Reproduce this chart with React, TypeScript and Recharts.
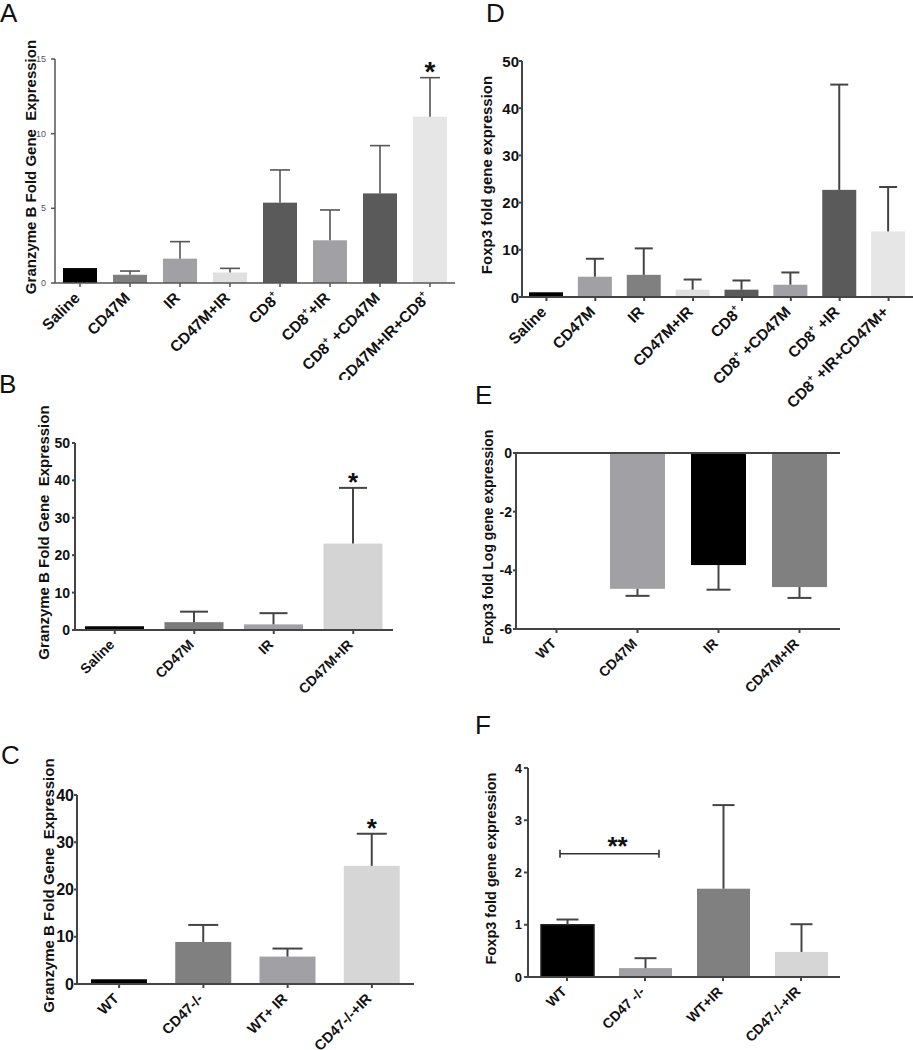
import React from 'react';
import { BarChart, Bar, XAxis, YAxis, ReferenceLine, Label } from 'recharts';

const FONT = '"Liberation Sans", Arial, Helvetica, sans-serif';

// ---------- Panel A ----------
const aCategories = ['Saline', 'CD47M', 'IR', 'CD47M+IR', 'CD8⁺', 'CD8⁺+IR', 'CD8⁺ +CD47M', 'CD47M+IR+CD8⁺'];
const aMeans = [1.0, 0.55, 1.63, 0.7, 5.38, 2.86, 6.0, 11.14];
const aErrors = [0, 0.25, 1.14, 0.28, 2.19, 2.03, 3.2, 2.61];
const aSignif = ['', '', '', '', '', '', '', '*'];
const aTicks = [0, 5, 10, 15];
const aColors = ['#000000', '#7f7f7f', '#a0a0a5', '#e0e0e0', '#5a5a5a', '#a0a0a5', '#5a5a5a', '#e6e6e6'];

// ---------- Panel B ----------
const bCategories = ['Saline', 'CD47M', 'IR', 'CD47M+IR'];
const bMeans = [1.0, 2.1, 1.5, 23.1];
const bErrors = [0, 2.8, 3.0, 14.9];
const bSignif = ['', '', '', '*'];
const bTicks = [0, 10, 20, 30, 40, 50];
const bColors = ['#000000', '#7b7b7b', '#a0a0a5', '#d4d4d4'];

// ---------- Panel C ----------
const cCategories = ['WT', 'CD47-/-', 'WT+ IR', 'CD47-/-+IR'];
const cMeans = [1.0, 8.9, 5.8, 25.0];
const cErrors = [0, 3.6, 1.7, 6.8];
const cSignif = ['', '', '', '*'];
const cTicks = [0, 10, 20, 30, 40];
const cColors = ['#000000', '#808080', '#a0a0a5', '#d6d6d6'];

// ---------- Panel D ----------
const dCategories = ['Saline', 'CD47M', 'IR', 'CD47M+IR', 'CD8⁺', 'CD8⁺ +CD47M', 'CD8⁺ +IR', 'CD8⁺ +IR+CD47M+'];
const dMeans = [1.0, 4.3, 4.7, 1.55, 1.55, 2.6, 22.7, 13.9];
const dErrors = [0, 3.8, 5.6, 2.15, 1.95, 2.6, 22.3, 9.4];
const dSignif = ['', '', '', '', '', '', '', ''];
const dTicks = [0, 10, 20, 30, 40, 50];
const dColors = ['#000000', '#a0a0a5', '#808080', '#e0e0e0', '#5a5a5a', '#a0a0a5', '#5a5a5a', '#e6e6e6'];

// ---------- Panel E ----------
const eCategories = ['WT', 'CD47M', 'IR', 'CD47M+IR'];
const eMeans = [0, -4.63, -3.82, -4.57];
const eErrors = [0, 0.24, 0.84, 0.37];
const eSignif = ['', '', '', ''];
const eTicks = [-6, -4, -2, 0];
const eColors = ['#000000', '#a0a0a5', '#000000', '#808080'];

// ---------- Panel F ----------
const fCategories = ['WT', 'CD47 -/-', 'WT+IR', 'CD47-/-+IR'];
const fMeans = [1.0, 0.17, 1.69, 0.48];
const fErrors = [0.1, 0.19, 1.6, 0.53];
const fSignif = ['', '', '', ''];
const fTicks = [0, 1, 2, 3, 4];
const fColors = ['#000000', '#a0a0a5', '#808080', '#d6d6d6'];
const fStrokes = ['#222222', 'none', 'none', 'none'];
const fBracketY = 2.36;
const fBracketText = '**';

function RotTick(props: any) {
  const { x, y, payload, fontSize } = props;
  const parts = String(payload.value).split('⁺');
  const sup = fontSize * 0.45;
  const kids: any[] = [];
  parts.forEach((part, i) => {
    if (i === 0) {
      kids.push(<tspan key={'p' + i} dy="0.35em">{part}</tspan>);
    } else {
      kids.push(
        <tspan key={'s' + i} dy={-sup} fontSize={fontSize * 0.6}>+</tspan>
      );
      kids.push(
        <tspan key={'p' + i} dy={sup} fontSize={fontSize}>{part}</tspan>
      );
    }
  });
  return (
    <text
      transform={`translate(${x - 3},${y + 6}) rotate(-45)`}
      textAnchor="end"
      fontSize={fontSize}
      fontWeight="bold"
      fontFamily={FONT}
      fill="#111"
      style={{ whiteSpace: 'pre' }}
    >
      {kids}
    </text>
  );
}

function YTick(props: any) {
  const { x, y, payload, fontSize, fontWeight, fill } = props;
  return (
    <text
      x={x}
      y={y}
      textAnchor="end"
      dominantBaseline="central"
      fontSize={fontSize}
      fontWeight={fontWeight}
      fontFamily={FONT}
      fill={fill}
    >
      {payload.value}
    </text>
  );
}

function ErrBar(props: any) {
  const { x, y, width, height, payload, cap, errColor, errWidth, starSize } = props;
  if (x == null || y == null) return null;
  const top = Math.min(y, y + height);
  const bot = Math.max(y, y + height);
  const h = bot - top;
  const v = payload.v;
  const pxPerUnit = v !== 0 ? h / Math.abs(v) : 0;
  const cx = x + width / 2;
  const tip = v >= 0 ? top : bot;
  const errPx = payload.err * pxPerUnit;
  const end = v >= 0 ? tip - errPx : tip + errPx;
  return (
    <g>
      {h > 0 && (
        <rect
          x={x}
          y={top}
          width={width}
          height={h}
          fill={payload.fill}
          stroke={payload.stroke || 'none'}
          strokeWidth={payload.stroke && payload.stroke !== 'none' ? 1.5 : 0}
        />
      )}
      {payload.err > 0 && (
        <g stroke={errColor} strokeWidth={errWidth}>
          <line x1={cx} y1={tip} x2={cx} y2={end} />
          <line x1={cx - cap} y1={end} x2={cx + cap} y2={end} />
        </g>
      )}
      {payload.sig && (
        <text
          x={cx}
          y={end + starSize * 0.12}
          textAnchor="middle"
          fontSize={starSize}
          fontWeight="bold"
          fontFamily={FONT}
          fill="#111"
        >
          {payload.sig}
        </text>
      )}
    </g>
  );
}

function Panel(p: any) {
  const { box, plot } = p;
  const data = p.categories.map((c: string, i: number) => ({
    name: c,
    v: p.means[i],
    err: p.errors[i],
    sig: p.signif[i],
    fill: p.colors[i],
    stroke: p.strokes ? p.strokes[i] : 'none',
  }));
  const margin = { top: plot.t - box.y, right: box.x + box.w - plot.r, bottom: 0, left: 0 };
  const yW = plot.l - box.x;
  const xH = box.y + box.h - plot.b;
  const labelY = (plot.t + plot.b) / 2 - 4 - box.y;
  const labelX = p.labelX - box.x;
  const axisStyle = { stroke: p.axisColor, strokeWidth: p.axisWidth };
  return (
    <div style={{ position: 'absolute', left: box.x, top: box.y, width: box.w, height: box.h }}>
      <BarChart width={box.w} height={box.h} data={data} margin={margin} style={{ fontFamily: FONT }}>
        <XAxis
          dataKey="name"
          type="category"
          interval={0}
          height={xH}
          axisLine={axisStyle}
          tickLine={axisStyle}
          tickSize={4}
          tickMargin={2}
          tick={(tp: any) => <RotTick {...tp} fontSize={p.xFont} />}
        />
        <YAxis
          type="number"
          domain={p.domain}
          ticks={p.ticks}
          interval={0}
          width={yW}
          allowDataOverflow
          axisLine={axisStyle}
          tickLine={axisStyle}
          tickSize={p.yTickSize}
          tickMargin={p.yTickMargin}
          tick={(tp: any) => (
            <YTick {...tp} fontSize={p.yFont} fontWeight={p.yWeight} fill={p.yFill} />
          )}
        >
          <Label
            content={() => (
              <text
                transform={`translate(${labelX},${labelY}) rotate(-90)`}
                textAnchor="middle"
                dominantBaseline="central"
                fontSize={p.labelFont}
                fontWeight="bold"
                fontFamily={FONT}
                fill="#111"
                style={{ whiteSpace: 'pre' }}
              >
                {p.yLabel}
              </text>
            )}
          />
        </YAxis>
        <Bar
          dataKey="v"
          isAnimationActive={false}
          barSize={p.barSize}
          shape={(bp: any) => (
            <ErrBar {...bp} cap={p.cap} errColor={p.errColor} errWidth={p.errWidth} starSize={p.starSize} />
          )}
        />
        {p.zeroLine && <ReferenceLine y={0} stroke={p.axisColor} strokeWidth={p.axisWidth} />}
        {p.bracket && (
          <ReferenceLine
            segment={[
              { x: p.categories[0], y: p.bracket.y },
              { x: p.categories[1], y: p.bracket.y },
            ]}
            shape={(lp: any) => {
              const x1 = lp.x1 - 7;
              const x2 = lp.x2 + 14;
              const yy = lp.y1;
              return (
                <g>
                  <g stroke="#333" strokeWidth={1.6}>
                    <line x1={x1} y1={yy} x2={x2} y2={yy} />
                    <line x1={x1} y1={yy - 4} x2={x1} y2={yy + 4} />
                    <line x1={x2} y1={yy - 4} x2={x2} y2={yy + 4} />
                  </g>
                  <text
                    x={(x1 + x2) / 2 + 8}
                    y={yy + 1}
                    textAnchor="middle"
                    fontSize={26}
                    fontWeight="bold"
                    fontFamily={FONT}
                    fill="#111"
                  >
                    {p.bracket.text}
                  </text>
                </g>
              );
            }}
          />
        )}
      </BarChart>
    </div>
  );
}

const letterStyle = (left: number, top: number): React.CSSProperties => ({
  position: 'absolute',
  left,
  top,
  fontFamily: FONT,
  fontSize: 26,
  lineHeight: '30px',
  color: '#111',
});

export default function App() {
  return (
    <div style={{ position: 'absolute', left: 0, top: 0, width: 913, height: 1050, background: '#fff', overflow: 'hidden' }}>
      <div style={letterStyle(0, -2)}>A</div>
      <div style={letterStyle(-1, 369)}>B</div>
      <div style={letterStyle(1, 740)}>C</div>
      <div style={letterStyle(486, -2)}>D</div>
      <div style={letterStyle(475, 380)}>E</div>
      <div style={letterStyle(475, 710)}>F</div>

      <Panel
        box={{ x: 0, y: 30, w: 460, h: 350 }}
        plot={{ l: 55, t: 59, r: 455, b: 283 }}
        categories={aCategories}
        means={aMeans}
        errors={aErrors}
        signif={aSignif}
        colors={aColors}
        domain={[0, 15]}
        ticks={aTicks}
        yLabel="Granzyme B Fold Gene  Expression"
        labelX={30}
        labelFont={15}
        yFont={9}
        yWeight="normal"
        yFill="#555"
        yTickSize={4}
        yTickMargin={5}
        xFont={15.5}
        barSize={34}
        cap={10}
        errColor="#555"
        errWidth={1.6}
        starSize={28}
        axisColor="#555"
        axisWidth={1.5}
      />
      <Panel
        box={{ x: 0, y: 400, w: 460, h: 320 }}
        plot={{ l: 75, t: 443, r: 393, b: 630 }}
        categories={bCategories}
        means={bMeans}
        errors={bErrors}
        signif={bSignif}
        colors={bColors}
        domain={[0, 50]}
        ticks={bTicks}
        yLabel="Granzyme B Fold Gene  Expression"
        labelX={43}
        labelFont={15}
        yFont={14}
        yWeight="bold"
        yFill="#111"
        yTickSize={3}
        yTickMargin={2}
        xFont={14}
        barSize={59}
        cap={14}
        errColor="#444"
        errWidth={2}
        starSize={26}
        axisColor="#444"
        axisWidth={2}
      />
      <Panel
        box={{ x: 0, y: 750, w: 460, h: 300 }}
        plot={{ l: 77, t: 795, r: 414, b: 984 }}
        categories={cCategories}
        means={cMeans}
        errors={cErrors}
        signif={cSignif}
        colors={cColors}
        domain={[0, 40]}
        ticks={cTicks}
        yLabel="Granzyme B Fold Gene  Expression"
        labelX={48}
        labelFont={15}
        yFont={16}
        yWeight="bold"
        yFill="#111"
        yTickSize={3}
        yTickMargin={0}
        xFont={14.5}
        barSize={56}
        cap={15}
        errColor="#444"
        errWidth={2}
        starSize={26}
        axisColor="#444"
        axisWidth={2}
      />
      <Panel
        box={{ x: 460, y: 30, w: 453, h: 380 }}
        plot={{ l: 522, t: 61, r: 913, b: 297 }}
        categories={dCategories}
        means={dMeans}
        errors={dErrors}
        signif={dSignif}
        colors={dColors}
        domain={[0, 50]}
        ticks={dTicks}
        yLabel="Foxp3 fold gene expression"
        labelX={486}
        labelFont={15}
        yFont={15}
        yWeight="bold"
        yFill="#111"
        yTickSize={3}
        yTickMargin={0}
        xFont={15.5}
        barSize={34}
        cap={9}
        errColor="#444"
        errWidth={2}
        starSize={24}
        axisColor="#444"
        axisWidth={2}
      />
      <Panel
        box={{ x: 460, y: 410, w: 453, h: 300 }}
        plot={{ l: 516, t: 453, r: 840, b: 629 }}
        categories={eCategories}
        means={eMeans}
        errors={eErrors}
        signif={eSignif}
        colors={eColors}
        domain={[-6, 0]}
        ticks={eTicks}
        yLabel="Foxp3 fold Log gene expression"
        labelX={488}
        labelFont={14}
        yFont={14}
        yWeight="bold"
        yFill="#111"
        yTickSize={3}
        yTickMargin={1}
        xFont={14}
        barSize={55}
        cap={12}
        errColor="#444"
        errWidth={2}
        starSize={24}
        axisColor="#444"
        axisWidth={2}
        zeroLine
      />
      <Panel
        box={{ x: 460, y: 740, w: 453, h: 310 }}
        plot={{ l: 528, t: 768, r: 840, b: 977 }}
        categories={fCategories}
        means={fMeans}
        errors={fErrors}
        signif={fSignif}
        colors={fColors}
        strokes={fStrokes}
        domain={[0, 4]}
        ticks={fTicks}
        yLabel="Foxp3 fold gene expression"
        labelX={491}
        labelFont={14.5}
        yFont={13}
        yWeight="bold"
        yFill="#111"
        yTickSize={4}
        yTickMargin={2}
        xFont={14}
        barSize={53}
        cap={11}
        errColor="#444"
        errWidth={2}
        starSize={24}
        axisColor="#444"
        axisWidth={2}
        bracket={{ y: fBracketY, text: fBracketText }}
      />
    </div>
  );
}
